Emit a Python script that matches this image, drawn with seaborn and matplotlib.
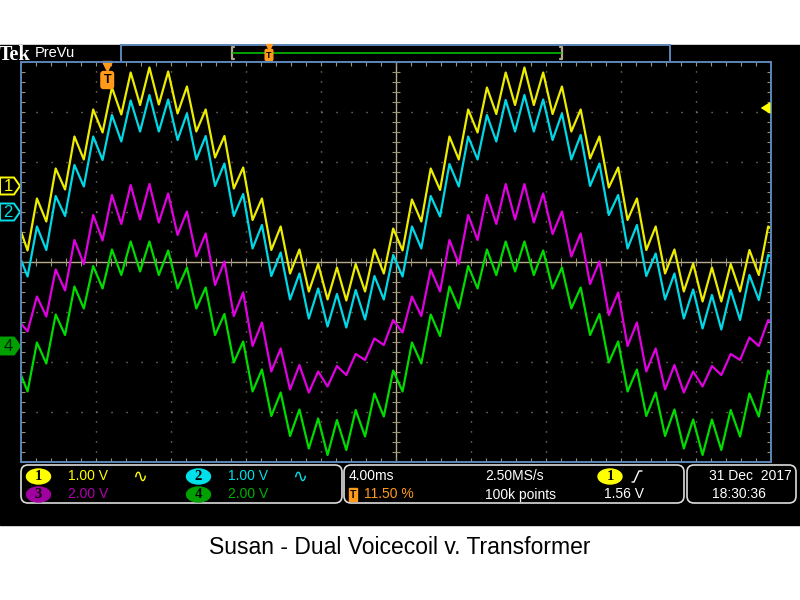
import numpy as np
import pandas as pd
import matplotlib
matplotlib.use("Agg")
import matplotlib.pyplot as plt
import seaborn as sns
from matplotlib.patches import Rectangle, FancyBboxPatch, Polygon, Ellipse

sns.set_theme(style="white")
plt.rcParams["font.family"] = ["Liberation Sans", "DejaVu Sans"]

# ---------------- data ----------------
# sample times in ms: start, ripple troughs/peaks every 0.5 ms, end
t_ms = [0.0] + list(0.35 + 0.5 * np.arange(80)) + [40.0]

# trace values in screen divisions (centre = 0)
ch1_div = [0.61,
           0.23, 1.27, 0.81, 1.87, 1.45, 2.51, 2.05, 3.05, 2.59, 3.49, 2.95, 3.79, 3.14, 3.89, 3.15, 3.81,
           2.97, 3.51, 2.61, 3.05, 2.09, 2.52, 1.47, 1.89, 0.84, 1.27, 0.24, 0.71, -0.23, 0.25, -0.59, -0.04,
           -0.75, -0.11, -0.77, -0.04, -0.59, 0.25, -0.23, 0.67, 0.23, 1.25, 0.81, 1.87, 1.44, 2.51, 2.05, 3.05,
           2.59, 3.49, 2.96, 3.79, 3.14, 3.89, 3.14, 3.79, 2.96, 3.51, 2.61, 3.05, 2.07, 2.51, 1.49, 1.89,
           0.84, 1.27, 0.24, 0.71, -0.23, 0.25, -0.59, -0.03, -0.79, -0.11, -0.79, -0.04, -0.59, 0.24, -0.26, 0.71,
           0.67]
ch2_div = [0.04,
           -0.29, 0.71, 0.24, 1.32, 0.92, 1.94, 1.51, 2.51, 2.04, 2.94, 2.41, 3.23, 2.61, 3.34, 2.61, 3.25,
           2.44, 2.97, 2.05, 2.52, 1.52, 1.97, 0.92, 1.36, 0.27, 0.74, -0.28, 0.19, -0.75, -0.23, -1.13, -0.53,
           -1.29, -0.64, -1.31, -0.56, -1.15, -0.28, -0.75, 0.14, -0.29, 0.71, 0.27, 1.32, 0.91, 1.96, 1.51, 2.51,
           2.05, 2.94, 2.41, 3.24, 2.61, 3.34, 2.61, 3.25, 2.44, 2.97, 2.05, 2.54, 1.52, 1.97, 0.94, 1.34,
           0.27, 0.74, -0.28, 0.17, -0.75, -0.23, -1.13, -0.55, -1.33, -0.66, -1.35, -0.56, -1.16, -0.26, -0.76, 0.14,
           0.11]
ch3_div = [-1.23,
           -1.39, -0.69, -1.09, -0.15, -0.57, 0.44, -0.04, 0.94, 0.43, 1.34, 0.76, 1.54, 0.85, 1.56, 0.79, 1.37,
           0.54, 1.01, 0.11, 0.57, -0.46, 0.01, -1.08, -0.61, -1.68, -1.21, -2.19, -1.73, -2.55, -2.06, -2.61, -2.19,
           -2.49, -2.08, -2.26, -1.84, -1.96, -1.53, -1.66, -1.16, -1.41, -0.69, -1.08, -0.15, -0.59, 0.44, -0.04, 0.94,
           0.44, 1.34, 0.76, 1.56, 0.85, 1.56, 0.79, 1.37, 0.56, 1.01, 0.11, 0.57, -0.44, 0.01, -1.06, -0.61,
           -1.68, -1.21, -2.19, -1.73, -2.55, -2.06, -2.61, -2.19, -2.49, -2.08, -2.26, -1.84, -1.96, -1.51, -1.68, -1.16,
           -1.19]
ch4_div = [-2.26,
           -2.59, -1.61, -2.03, -1.05, -1.46, -0.49, -0.93, -0.08, -0.53, 0.25, -0.26, 0.41, -0.19, 0.41, -0.26, 0.23,
           -0.53, -0.11, -0.93, -0.51, -1.46, -1.04, -2.01, -1.59, -2.59, -2.15, -3.08, -2.61, -3.48, -2.95, -3.73, -3.13,
           -3.86, -3.16, -3.76, -2.96, -3.49, -2.63, -3.09, -2.17, -2.59, -1.61, -2.03, -1.05, -1.48, -0.49, -0.93, -0.08,
           -0.53, 0.25, -0.26, 0.41, -0.19, 0.41, -0.26, 0.23, -0.53, -0.11, -0.93, -0.51, -1.46, -1.04, -2.01, -1.59,
           -2.59, -2.15, -3.08, -2.61, -3.48, -2.95, -3.73, -3.15, -3.86, -3.15, -3.76, -2.96, -3.49, -2.63, -3.09, -2.17,
           -2.26]

channels = ["CH1", "CH2", "CH3", "CH4"]
trace_colors = ["#ecec00", "#00d8e6", "#e000e0", "#00dc00"]
badge_colors = ["#ffff00", "#00e0e8", "#a000a0", "#00a000"]
text_colors = ["#ffff00", "#00e0e8", "#b000b0", "#00b000"]
volts_per_div = ["1.00 V", "1.00 V", "2.00 V", "2.00 V"]
ch_offset_div = [1.52, 1.00, None, -1.68]      # ground markers on the left

time_per_div = "4.00ms"
sample_rate = "2.50MS/s"
record_len = "100k points"
trig_pos_pct = 11.50
trig_level_v = 1.56
date_str = "31 Dec  2017"
time_str = "18:30:36"
title = "Susan - Dual Voicecoil v. Transformer"

n_div_x, n_div_y = 10, 8
t_span_ms = 40.0

df = pd.concat([pd.DataFrame({"t": t_ms, "v": v, "ch": c})
                for c, v in zip(channels, [ch1_div, ch2_div, ch3_div, ch4_div])],
               ignore_index=True)

# ---------------- layout ----------------
W, H = 800, 600
PL, PR, PT, PB = 21, 771, 62, 462
ORANGE = "#ff9a1a"
FRAME = "#5b86b8"
GRID = "#9c9276"
CROSS = "#b8ac8c"

fig = plt.figure(figsize=(8, 6), dpi=100, facecolor="white")

bg = fig.add_axes([0, 0, 1, 1], zorder=0)
bg.set_xlim(0, W)
bg.set_ylim(H, 0)
bg.axis("off")
bg.add_patch(Rectangle((0, 45), W, 480, color="black", zorder=0))

ax = fig.add_axes([PL / W, 1 - PB / H, (PR - PL) / W, (PB - PT) / H], zorder=1)
ax.set_facecolor("black")
ax.set_xlim(0, t_span_ms)
ax.set_ylim(-n_div_y / 2, n_div_y / 2)
ax.set_xticks([])
ax.set_yticks([])
for s in ax.spines.values():
    s.set_color(FRAME)
    s.set_linewidth(1.4)

tdiv = t_span_ms / n_div_x
# dotted graticule
for k in range(1, n_div_x):
    if k == n_div_x // 2:
        continue
    ax.vlines(k * tdiv, -4, 4, colors=GRID, linewidth=1.0, linestyles=[(0, (0.8, 6.4))])
for k in range(-3, 4):
    if k == 0:
        continue
    ax.hlines(k, 0, t_span_ms, colors=GRID, linewidth=1.0, linestyles=[(0, (0.8, 10.0))])
# centre cross
ax.axhline(0, color=CROSS, lw=1.0)
ax.axvline(t_span_ms / 2, color=CROSS, lw=1.0)
minor_t = np.arange(0, t_span_ms + 0.01, tdiv / 5)
minor_v = np.arange(-4, 4.01, 0.2)
ax.plot(minor_t, np.zeros_like(minor_t), ls="none", marker="|", ms=6, mew=0.8, color=GRID)
ax.plot(np.full_like(minor_v, t_span_ms / 2), minor_v, ls="none", marker="_", ms=6, mew=0.8, color=GRID)
ax.plot(minor_t, np.full_like(minor_t, 4), ls="none", marker="|", ms=6, mew=0.8, color=GRID)
ax.plot(minor_t, np.full_like(minor_t, -4), ls="none", marker="|", ms=6, mew=0.8, color=GRID)
ax.plot(np.zeros_like(minor_v), minor_v, ls="none", marker="_", ms=6, mew=0.8, color=GRID)
ax.plot(np.full_like(minor_v, t_span_ms), minor_v, ls="none", marker="_", ms=6, mew=0.8, color=GRID)

# traces
sns.lineplot(data=df, x="t", y="v", hue="ch", hue_order=channels,
             palette=dict(zip(channels, trace_colors)), legend=False,
             estimator=None, linewidth=1.6, ax=ax)
ax.set_xlabel("")
ax.set_ylabel("")

# trigger position marker at top
trig_t = trig_pos_pct / 100 * t_span_ms
xt = ax.get_xaxis_transform()
ax.plot([trig_t], [0.99], marker="v", ms=7, color=ORANGE, transform=xt, clip_on=False)
ax.text(trig_t, 0.955, "T", transform=xt, ha="center", va="center", color="black",
        fontsize=9, fontweight="bold",
        bbox=dict(boxstyle="round,pad=0.2,rounding_size=0.2", fc=ORANGE, ec=ORANGE))

# trigger level arrow on right
trig_level_div = ch_offset_div[0] + trig_level_v / 1.0
ax.annotate("", xy=(39.3, trig_level_div), xytext=(40.0, trig_level_div),
            arrowprops=dict(arrowstyle="-|>,head_length=0.45,head_width=0.28",
                            color=badge_colors[0], lw=1.2))

# ---------------- left channel ground markers ----------------
def div_to_px(d):
    return PB - (d + n_div_y / 2) / n_div_y * (PB - PT)

for i, off in enumerate(ch_offset_div):
    if off is None:
        continue
    y = div_to_px(off)
    pts = [(0, y - 8.5), (14, y - 8.5), (20, y), (14, y + 8.5), (0, y + 8.5)]
    filled = (i == 3)
    bg.add_patch(Polygon(pts, closed=True, fc=badge_colors[i] if filled else "black",
                         ec=badge_colors[i], lw=1.4, zorder=2))
    bg.text(8, y + 0.5, str(i + 1), ha="center", va="center", fontsize=12,
            color="#002000" if filled else badge_colors[i], zorder=3)

# ---------------- top bar ----------------
bg.text(-1, 60, "Tek", ha="left", va="baseline", color="white", fontsize=14.5,
        family="Liberation Serif", fontweight="bold")
bg.text(35, 53, "PreVu", ha="left", va="center", color="white", fontsize=10.5)
bg.add_patch(Rectangle((121, 45), 549, 16.5, fill=False, ec=FRAME, lw=1.4))
BR = "#b0a68a"
bg.plot([234, 232, 232, 234], [46.5, 46.5, 59, 59], color=BR, lw=1.6)
bg.plot([560, 562, 562, 560], [46.5, 46.5, 59, 59], color=BR, lw=1.6)
bg.plot([233, 561], [52.5, 52.5], color="#00b000", lw=1.3)
bg.plot([269], [47], marker="v", ms=5, color=ORANGE)
bg.text(269, 55, "T", ha="center", va="center", color="black", fontsize=6.5, fontweight="bold",
        bbox=dict(boxstyle="round,pad=0.12,rounding_size=0.15", fc=ORANGE, ec=ORANGE))

# ---------------- status bar ----------------
BOX_EC = "#dcdcdc"
for (x0, w) in [(21, 321), (344, 340), (687, 109)]:
    bg.add_patch(FancyBboxPatch((x0, 465), w, 38, boxstyle="round,pad=0,rounding_size=7",
                                fc="black", ec=BOX_EC, lw=1.2))

R1, R2 = 476.5, 494.5
FS = 10

def badge(x, y, label, color):
    bg.add_patch(Ellipse((x, y), 24, 15, color=color))
    bg.text(x, y + 0.5, label, ha="center", va="center", color="black", fontsize=10.5,
            family="Liberation Serif", fontweight="bold")

badge_pos = [(38.5, R1), (198.5, R1), (38.5, R2), (198.5, R2)]
for i, (bx, by) in enumerate(badge_pos):
    badge(bx, by, str(i + 1), badge_colors[i])
    bg.text(bx + 30, by, volts_per_div[i], ha="left", va="center", color=text_colors[i], fontsize=FS)
for i in (0, 1):
    bx, by = badge_pos[i]
    bg.text(bx + 94, by, "\u223f", ha="left", va="center", color=text_colors[i], fontsize=13,
            family=["DejaVu Sans"])

bg.text(349, R1, time_per_div, ha="left", va="center", color="white", fontsize=FS)
bg.text(353, R2, "T", ha="center", va="center", color="black", fontsize=7.5, fontweight="bold",
        bbox=dict(boxstyle="square,pad=0.12", fc=ORANGE, ec=ORANGE))
bg.text(364, R2, f"{trig_pos_pct:.2f} %", ha="left", va="center", color=ORANGE, fontsize=FS)
bg.text(485, R1, sample_rate, ha="left", va="center", color="white", fontsize=FS)
bg.text(485, R2, record_len, ha="left", va="center", color="white", fontsize=FS)
badge(610, R1, "1", badge_colors[0])
bg.plot([632, 634, 639, 642], [482, 482, 471, 471], color="white", lw=1.0)
bg.text(604, R2, f"{trig_level_v:.2f} V", ha="left", va="center", color="white", fontsize=FS)
bg.text(792, R1, date_str, ha="right", va="center", color="white", fontsize=FS)
bg.text(712, R2, time_str, ha="left", va="center", color="white", fontsize=FS)

# caption
fig.text(0.5, 1 - 548 / H, title, ha="center", va="center", color="black", fontsize=16.5)

fig.savefig("out.png", dpi=100, facecolor="white")
